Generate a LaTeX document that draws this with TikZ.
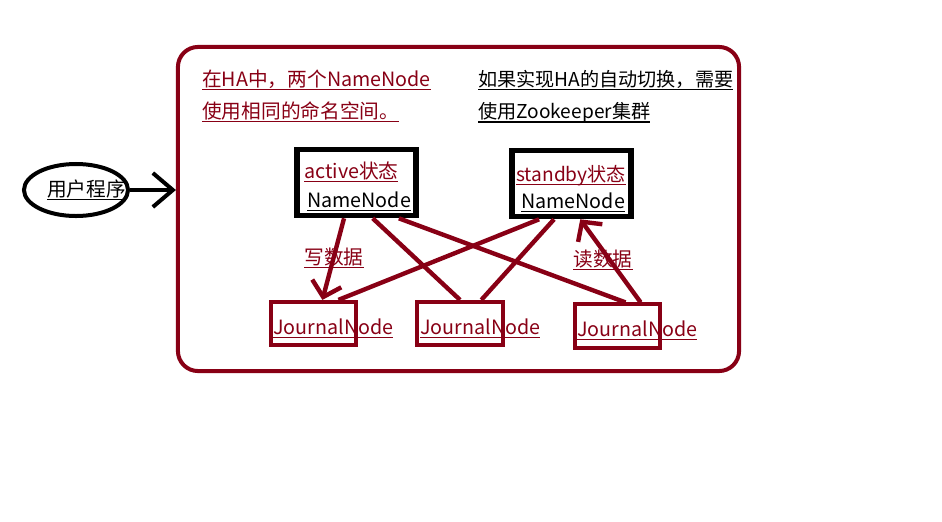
\documentclass[tikz,border=0pt]{standalone}
\usepackage{fontspec}
\setmainfont{Noto Sans CJK SC}
\usetikzlibrary{arrows.meta,calc,shapes.geometric}
\definecolor{darkred}{RGB}{136,0,21}
\newcommand\uln[1]{\setbox0\hbox{#1}\rlap{\rule[-2.6pt]{\wd0}{0.8pt}}\box0}

\begin{document}
\begin{tikzpicture}[x=0.025cm,y=-0.025cm,
    every node/.style={font=\fontsize{14}{16}\selectfont},
    txt/.style={inner sep=0pt,anchor=west},
    redtxt/.style={txt,text=darkred},
    nnbox/.style={draw=black,line width=0.14cm,minimum width=2.975cm,minimum height=1.65cm},
    jnbox/.style={draw=darkred,line width=0.1cm,minimum width=2.125cm,minimum height=1.08cm},
    link/.style={draw=darkred,line width=0.11cm},
    barb/.style={-{Straight Barb[length=0.35cm,width=0.75cm]}}]
    \useasboundingbox (0,0) rectangle (942,521);

    % outer frame and client
    \node[draw=darkred,line width=0.1cm,rounded corners=0.5cm,minimum width=14.025cm,minimum height=8.1cm] (ha) at (458.5,209) {};
    \node[draw,ellipse,line width=0.1cm,minimum width=2.6cm,minimum height=1.3cm] (user) at (76,190) {};
    \node[txt] (usertxt) at (47,190) {\uln{用户程序}};
    \draw[line width=0.1cm,-{Straight Barb[length=0.5cm,width=0.85cm]}] (user.east) -- (user.east -| ha.west);

    % notes
    \node[redtxt] (note1) at (202,80) {\uln{在HA中，两个NameNode}};
    \node[redtxt] (note2) at (202,112) {\uln{使用相同的命名空间。}};
    \node[txt,font=\fontsize{13.6}{16}\selectfont] (note3) at (478,80) {\uln{如果实现HA的自动切换，需要}};
    \node[txt,font=\fontsize{13.6}{16}\selectfont] (note4) at (478,113) {\uln{使用Zookeeper集群}};

    % NameNodes
    \node[nnbox] (act) at (356.5,182.5) {};
    \node[redtxt] (acttxt) at (304,172) {\uln{active状态}};
    \node[txt] (actnn) at (307,201) {\uln{NameNode}};
    \node[nnbox] (sb) at (571.5,183.5) {};
    \node[redtxt,font=\fontsize{13.6}{16}\selectfont] (sbtxt) at (516,176) {\uln{standby状态}};
    \node[txt] (sbnn) at (521,202) {\uln{NameNode}};

    % JournalNodes
    \node[jnbox] (jn1) at (313.5,323.5) {};
    \node[redtxt] (jn1txt) at (273,328) {\uln{JournalNode}};
    \node[jnbox] (jn2) at (460,323.5) {};
    \node[redtxt] (jn2txt) at (420,328) {\uln{JournalNode}};
    \node[jnbox] (jn3) at (617.5,326) {};
    \node[redtxt] (jn3txt) at (577,330) {\uln{JournalNode}};

    % links
    \draw[link,barb] ($(act.south west)!0.40!(act.south east)$) -- ($(jn1.north west)!0.6!(jn1.north east)$);
    \draw[link] ($(act.south west)!0.63!(act.south east)$) -- ($(jn2.north west)!0.5!(jn2.north east)$);
    \draw[link] ($(act.south west)!0.84!(act.south east)$) -- ($(jn3.north west)!0.59!(jn3.north east)$);
    \draw[link] ($(sb.south west)!0.24!(sb.south east)$) -- ($(jn1.north west)!0.78!(jn1.north east)$);
    \draw[link] ($(sb.south west)!0.36!(sb.south east)$) -- ($(jn2.north west)!0.74!(jn2.north east)$);
    \draw[link,barb] ($(jn3.north west)!0.76!(jn3.north east)$) -- ($(sb.south west)!0.57!(sb.south east)$);
    \node[redtxt,anchor=center] (write) at (334,258) {\uln{写数据}};
    \node[redtxt,anchor=center] (read) at (603,260) {\uln{读数据}};
\end{tikzpicture}
\end{document}
